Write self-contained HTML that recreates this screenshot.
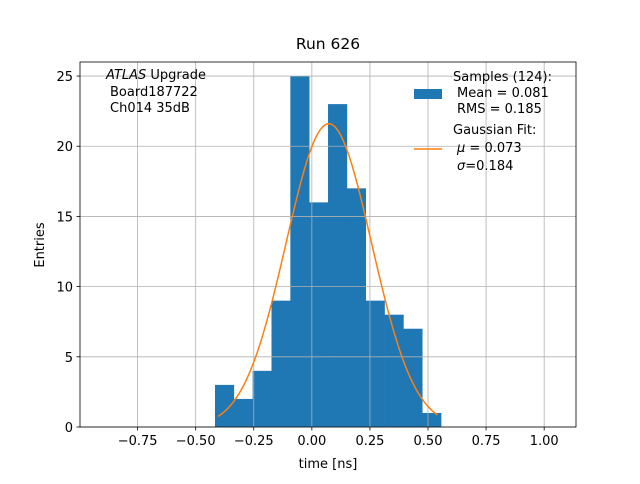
<!DOCTYPE html>
<html><head><meta charset="utf-8"><style>
body{margin:0;background:#fff;font-family:"DejaVu Sans","Liberation Sans",sans-serif}
svg text{font-family:"DejaVu Sans","Liberation Sans",sans-serif}
</style></head><body>
<svg id="c" width="640" height="480"></svg>
<script>
const binStart=-0.417, binWidth=0.0811;
const counts=[3,2,4,9,25,16,23,17,9,8,7,1];
const xTicks=[-0.75,-0.5,-0.25,0,0.25,0.5,0.75,1.0];
const xTickLabels=["−0.75","−0.50","−0.25","0.00","0.25","0.50","0.75","1.00"];
const yTicks=[0,5,10,15,20,25];
const fitMu=0.073, fitSigma=0.184, fitAmp=21.6, fitMin=-0.403, fitMax=0.541;
const L=80,R=576,T=62,B=427,xmin=-0.998,xmax=1.137,ymax=26.0;
const X=v=>L+(v-xmin)/(xmax-xmin)*(R-L);
const Y=v=>B-v/ymax*(B-T);
const svg=document.getElementById('c');const NS='http://www.w3.org/2000/svg';
function mk(t,a,p){const e=document.createElementNS(NS,t);for(const k in a)e.setAttribute(k,a[k]);(p||svg).appendChild(e);return e;}
mk('rect',{x:L,y:T,width:R-L,height:B-T,fill:'#fff'});
counts.forEach((c,i)=>{
 const x0=X(binStart+i*binWidth),x1=X(binStart+(i+1)*binWidth);
 const r=mk('rect',{x:x0,y:Y(c),width:x1-x0+0.3,height:B-Y(c),fill:'#1f77b4'});
 
 
});
xTicks.forEach(v=>{
 const g=mk('line',{x1:X(v),x2:X(v),y1:T,y2:B,stroke:'#b0b0b0','stroke-width':0.8});
 
 
});
yTicks.forEach(v=>{
 const g=mk('line',{x1:L,x2:R,y1:Y(v),y2:Y(v),stroke:'#b0b0b0','stroke-width':0.8});
 
 
});
let d='';for(let i=0;i<=200;i++){const x=fitMin+(fitMax-fitMin)*i/200;const y=fitAmp*Math.exp(-0.5*((x-fitMu)/fitSigma)**2);d+=(i?'L':'M')+X(x).toFixed(2)+','+Y(y).toFixed(2);}
const fp=mk('path',{d:d,fill:'none',stroke:'#ff7f0e','stroke-width':1.5});


mk('rect',{x:L,y:T,width:R-L,height:B-T,fill:'none',stroke:'#000','stroke-width':0.8});
xTicks.forEach((v,i)=>{
 mk('line',{x1:X(v),x2:X(v),y1:B,y2:B+3.5,stroke:'#000','stroke-width':0.8});
 const t=mk('text',{x:X(v),y:B+18,'text-anchor':'middle','font-size':13});t.textContent=xTickLabels[i];
 
 
});
yTicks.forEach(v=>{
 mk('line',{x1:L,x2:L-3.5,y1:Y(v),y2:Y(v),stroke:'#000','stroke-width':0.8});
 const t=mk('text',{x:L-7,y:Y(v)+5,'text-anchor':'end','font-size':13});t.textContent=v;
 
 
});
</script>
<svg width="640" height="480" style="position:absolute;left:0;top:0">
<text x="328" y="49" text-anchor="middle" font-size="15.5">Run 626</text>
<text x="328" y="468" text-anchor="middle" font-size="13">time [ns]</text>
<text x="44" y="245" text-anchor="middle" font-size="13" transform="rotate(-90 44 245)">Entries</text>
<text x="106" y="79" font-size="13"><tspan font-style="italic">ATLAS</tspan> Upgrade</text>
<text x="110" y="96" font-size="13">Board187722</text>
<text x="110" y="112" font-size="13">Ch014 35dB</text>
<g>
<rect x="414" y="89" width="28" height="10" fill="#1f77b4"/>
<text x="453" y="81" font-size="13">Samples (124):</text>
<text x="457" y="97" font-size="13">Mean = 0.081</text>
<text x="457" y="113" font-size="13">RMS = 0.185</text>
<line x1="414" x2="442" y1="149" y2="149" stroke="#ff7f0e" stroke-width="1.5"/>
<text x="453" y="134" font-size="13">Gaussian Fit:</text>
<text x="457" y="152" font-size="13"><tspan font-style="italic">μ</tspan> = 0.073</text>
<text x="457" y="170" font-size="13"><tspan font-style="italic">σ</tspan>=0.184</text>
</g>
</svg>
</body></html>
